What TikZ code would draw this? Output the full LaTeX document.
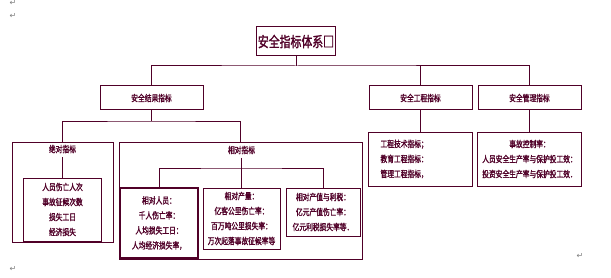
\documentclass[tikz,border=0pt]{standalone}
\usepackage{fontspec}
\setmainfont[FakeStretch=0.75,FakeBold=1.5]{Noto Sans CJK SC}
\newfontfamily\markfont{DejaVu Sans}
\usepackage{tikz}
\usetikzlibrary{positioning}
\definecolor{boxline}{RGB}{80,0,40}
\definecolor{markgray}{RGB}{125,125,125}

\begin{document}
\begin{tikzpicture}
          [x=1pt,y=-1pt,line width=1pt,color=boxline,font=\fontsize{9}{15}\selectfont]
          \tikzstyle{box}=[draw,inner sep=1pt,align=center]
          \tikzstyle{frame}=[draw,inner sep=0pt]
          \tikzstyle{parmark}=[text=markgray,font=\markfont\fontsize{8}{8}\selectfont,inner sep=0pt]

          \useasboundingbox (0,0) rectangle (611,278);

          \node[box,minimum width=78pt,minimum height=29pt,font=\fontsize{14.5}{16}\selectfont] (sys) at (296,41.5) {安全指标体系□};
          \node[box,minimum width=103pt,minimum height=24pt] (res) at (151.5,98) {安全结果指标};
          \node[box,minimum width=103pt,minimum height=24pt] (eng) at (420.5,98) {安全工程指标};
          \node[box,minimum width=103pt,minimum height=24pt] (mgt) [right=5pt of eng] {安全管理指标};

          \node[frame,minimum width=101pt,minimum height=100pt] (absbox) at (62.5,192) {};
          \node (abstitle) at (62.5,149) {绝对指标};
          \node[box,minimum width=78pt,minimum height=63pt] (abslist) at (62.5,209.5)
            {人员伤亡人次\\事故征候次数\\损失工日\\经济损失};

          \node[frame,minimum width=243pt,minimum height=117pt] (relbox) at (240.5,200.5) {};
          \node (reltitle) at (241.5,150) {相对指标};
          \node[box,line width=2pt,minimum width=78pt,minimum height=70pt] (relstaff) at (159,223)
            {相对人员：\\千人伤亡率：\\人均损失工日：\\人均经济损失率，};
          \node[box,minimum width=77pt,minimum height=61pt] (relout) at (241.5,218.5)
            {相对产量：\\亿客公里伤亡率：\\百万吨公里损失率：\\万次起落事故征候率等};
          \node[box,minimum width=74pt,minimum height=48pt] (relval) at (323,212)
            {相对产值与利税：\\亿元产值伤亡率：\\亿元利税损失率等．};

          \node[box,align=left,text width=80pt,inner xsep=12pt,minimum height=54pt] (englist) [below=21pt of eng]
            {工程技术指标；\\教育工程指标：\\管理工程指标，};
          \node[box,minimum width=104pt,minimum height=54pt] (mgtlist) [below=21pt of mgt]
            {事故控制率：\\人员安全生产率与保护投工效：\\投资安全生产率与保护投工效．};

          % connectors
          \coordinate (topbus) at (296,66);
          \draw (sys.south) -- (topbus);
          \draw (res.north) |- (topbus) -| (mgt.north);
          \draw (eng.north) -- (eng.north |- topbus);
          \draw (eng.south) -- (englist.north);
          \draw (mgt.south) -- (mgtlist.north);

          \coordinate (resbus) at (151.5,121);
          \draw (res.south) -- (resbus);
          \draw (absbox.north) |- (resbus) -| (relbox.north);
          \draw (abstitle.south) -- (abslist.north);

          \coordinate (relbus) at (241.5,168);
          \draw (reltitle.south) -- (relout.north);
          \draw (relstaff.north) |- (relbus) -| (relval.north);

          % paragraph marks
          \node[parmark] (pm1) at (13,3) {↵};
          \node[parmark] (pm2) at (13,16) {↵};
          \node[parmark] (pm3) at (580,256) {↵};
          \node[parmark] (pm4) at (13,269) {↵};
        \end{tikzpicture}
\end{document}
